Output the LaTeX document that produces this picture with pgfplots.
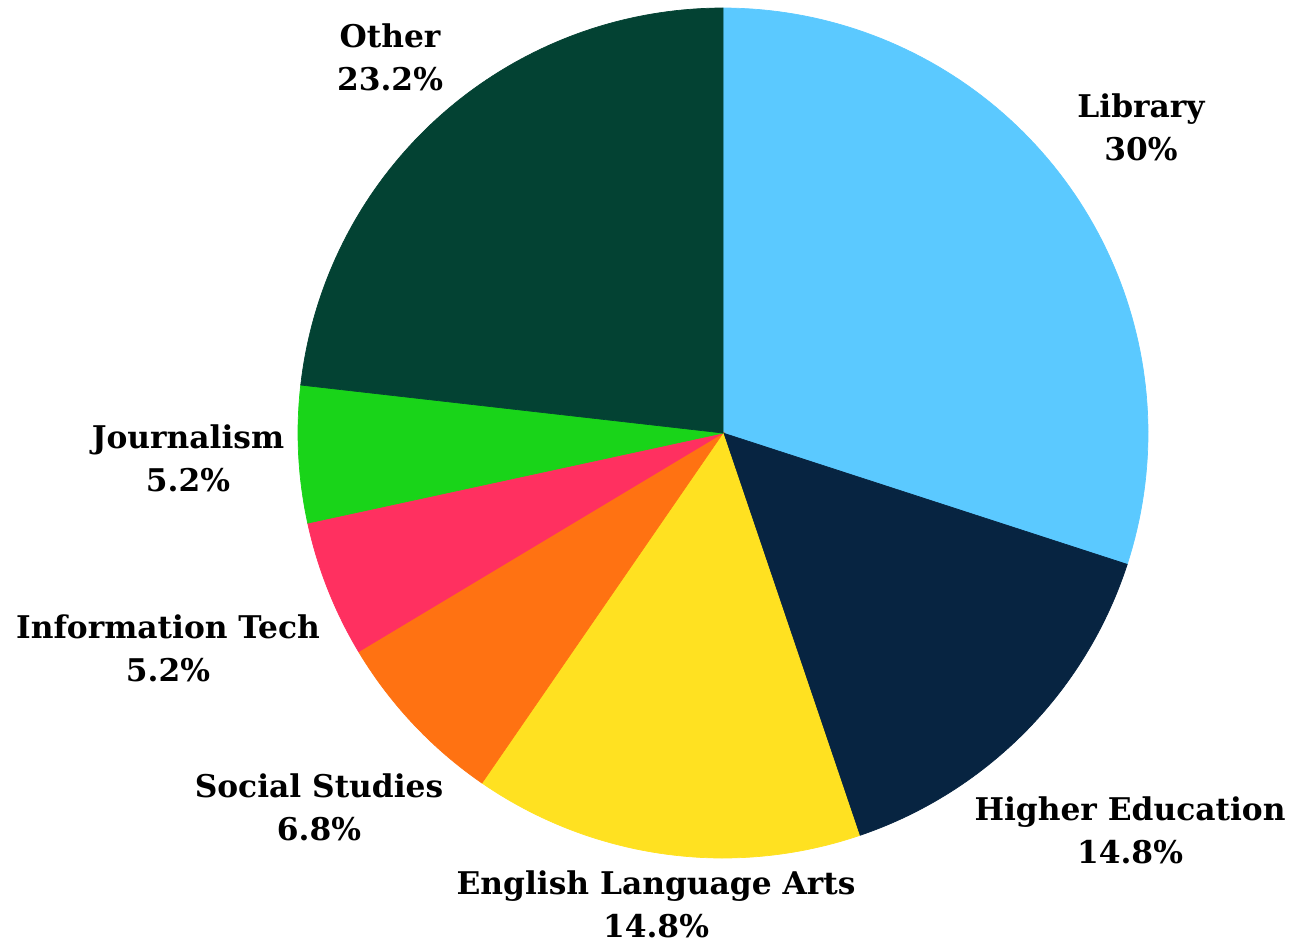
\documentclass[border=0pt]{standalone}
\usepackage{pgfplots}
\pgfplotsset{compat=1.18}
\usepackage{fontspec}
\setmainfont{DejaVu Serif}
\definecolor{cLib}{HTML}{5BC9FF}
\definecolor{cHigh}{HTML}{072441}
\definecolor{cEng}{HTML}{FFE121}
\definecolor{cSoc}{HTML}{FF7212}
\definecolor{cIT}{HTML}{FF3060}
\definecolor{cJour}{HTML}{19D419}
\definecolor{cOther}{HTML}{034233}
\tikzset{lbl/.style={font=\bfseries\fontsize{8.9}{12.3}\selectfont, align=center, inner sep=0pt, anchor=center}}
\begin{document}
\begin{tikzpicture}
\begin{axis}[
  width=12.97cm, height=9.45cm, scale only axis,
  xmin=0, xmax=1297, ymin=0, ymax=945,
  axis lines=none, ticks=none, clip=false,
]
\addplot[draw=none] coordinates {(0,0) (1297,945)};
% shares (%): Library 30, Higher Ed 14.8, English 14.8, Social 6.8, IT 5.2, Journalism 5.2, Other 23.2
% angles (deg), clockwise from 90: 90, -18, -71.28, -124.56, -149.04, -167.76, -186.48, -270
\addplot[fill=cLib, draw=cLib, line width=0.2pt, domain=-18:90, samples=90] ({723+425*cos(x)},{512+425*sin(x)}) -- (axis cs:723,512) -- cycle;
\addplot[fill=cHigh, draw=cHigh, line width=0.2pt, domain=-71.28:-18, samples=60] ({723+425*cos(x)},{512+425*sin(x)}) -- (axis cs:723,512) -- cycle;
\addplot[fill=cEng, draw=cEng, line width=0.2pt, domain=-124.56:-71.28, samples=60] ({723+425*cos(x)},{512+425*sin(x)}) -- (axis cs:723,512) -- cycle;
\addplot[fill=cSoc, draw=cSoc, line width=0.2pt, domain=-149.04:-124.56, samples=30] ({723+425*cos(x)},{512+425*sin(x)}) -- (axis cs:723,512) -- cycle;
\addplot[fill=cIT, draw=cIT, line width=0.2pt, domain=-167.76:-149.04, samples=25] ({723+425*cos(x)},{512+425*sin(x)}) -- (axis cs:723,512) -- cycle;
\addplot[fill=cJour, draw=cJour, line width=0.2pt, domain=-186.48:-167.76, samples=25] ({723+425*cos(x)},{512+425*sin(x)}) -- (axis cs:723,512) -- cycle;
\addplot[fill=cOther, draw=cOther, line width=0.2pt, domain=-270:-186.48, samples=80] ({723+425*cos(x)},{512+425*sin(x)}) -- (axis cs:723,512) -- cycle;
\node[lbl] at (axis cs:1141,818) {Library\\30\%};
\node[lbl] at (axis cs:390,888) {Other\\23.2\%};
\node[lbl] at (axis cs:188,487) {Journalism\\5.2\%};
\node[lbl] at (axis cs:168,297) {Information Tech\\5.2\%};
\node[lbl] at (axis cs:319,138) {Social Studies\\6.8\%};
\node[lbl] at (axis cs:656,41) {English Language Arts\\14.8\%};
\node[lbl] at (axis cs:1130,115) {Higher Education\\14.8\%};
\end{axis}
\end{tikzpicture}
\end{document}
